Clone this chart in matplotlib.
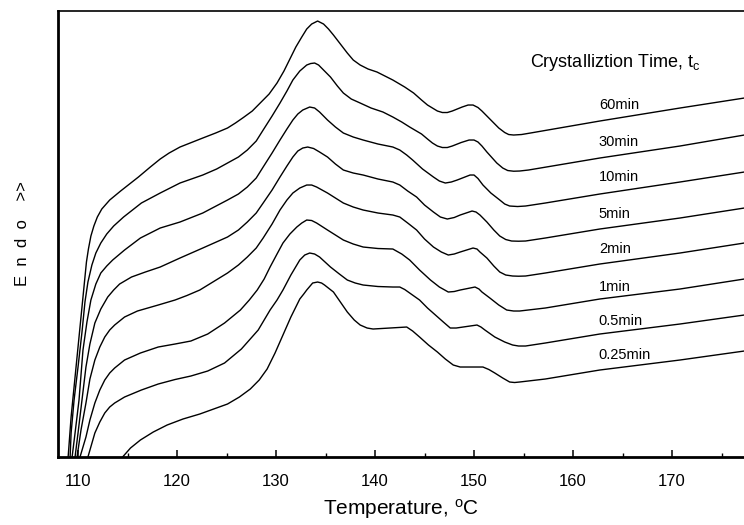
import matplotlib.pyplot as plt
import numpy as np

plt.rcParams['font.family'] = ['Liberation Sans', 'DejaVu Sans']
plt.rcParams['mathtext.default'] = 'regular'

# DSC heating traces after isothermal crystallization (heat flow in a.u.)
t_60 = [109.0, 109.3, 109.8, 110.3, 110.6, 110.85, 111.05, 111.3, 111.6, 111.95, 112.4, 113.2, 114.3, 115.2,
        116.1, 117.3, 118.3, 119.2, 120.3, 122.6, 123.9, 125.1, 125.9, 126.7, 127.6, 128.4, 129.3, 130.1,
        130.8, 131.4, 132.0, 132.6, 133.1, 133.6, 134.2, 134.8, 135.3, 135.8, 136.5, 137.2, 137.8, 138.5,
        139.3, 140.2, 141.0, 141.8, 143.0, 143.9, 144.7, 145.3, 145.8, 146.3, 146.8, 147.3, 147.8, 148.8,
        149.4, 149.9, 150.4, 150.8, 151.6, 152.5, 153.1, 153.5, 154.0, 154.8, 155.7, 162.7, 170.8, 177.3]
h_60 = [0, 40, 90, 140, 170, 195, 208, 221, 231, 240, 248, 257, 266, 273,
        280, 290, 298, 304, 310, 319, 324, 329, 334, 339.5, 346, 354, 363, 374,
        386, 398, 410, 420, 428, 433, 436, 433, 428, 422, 413, 404, 397, 392,
        388, 385, 381, 377, 370, 364, 357, 352, 349, 346, 344.5, 344.5, 346, 350,
        352, 352, 349.5, 346, 338, 329, 324.5, 322.5, 322, 322.5, 324, 336, 349, 359]

t_30 = [109.2, 109.3, 109.6, 110.0, 110.4, 110.7, 111.0, 111.4, 111.8, 112.3, 112.9, 113.6, 114.6, 115.5,
        116.4, 118.3, 120.3, 122.6, 124.0, 125.1, 126.2, 127.1, 128.0, 128.7, 129.6, 130.4, 131.1, 131.7,
        132.4, 133.1, 133.5, 133.9, 134.3, 134.6, 135.5, 136.2, 136.8, 137.6, 138.5, 139.6, 140.8, 141.8,
        142.7, 143.5, 144.7, 145.3, 145.8, 146.3, 146.8, 147.3, 147.8, 148.7, 149.5, 150.0, 150.4, 150.8,
        151.3, 152.3, 152.9, 153.4, 154.0, 154.6, 155.5, 156.7, 162.7, 170.8, 177.3]
h_30 = [0, 24, 57, 90, 125, 155, 175, 192, 204, 214, 223, 231, 240, 247,
        254, 264, 274, 282, 288, 294, 300, 307, 316, 327, 341, 354, 366, 377,
        386, 392, 393.5, 394, 392, 389, 380, 371, 364, 358, 354, 349, 345, 340,
        335, 330, 323, 318, 314, 311, 309.5, 309.5, 311, 314.5, 317, 317, 315, 311,
        305, 294, 289, 286.5, 285.8, 286, 287, 289, 299, 311, 322]

t_10 = [109.4, 109.7, 110.1, 110.5, 110.9, 111.3, 111.8, 112.3, 112.9, 113.5, 114.7, 116.3, 118.3, 120.3,
        122.6, 125.1, 126.2, 127.1, 128.0, 128.7, 129.6, 130.4, 131.1, 131.7, 132.2, 132.7, 133.4, 133.9,
        134.4, 135.2, 136.0, 136.8, 137.8, 138.8, 140.3, 141.8, 142.5, 143.2, 143.8, 144.8, 145.9, 146.5,
        147.1, 147.7, 148.3, 149.6, 150.0, 150.4, 150.9, 151.7, 152.6, 153.1, 153.6, 154.4, 155.2, 157.2,
        162.7, 170.8, 177.3]
h_10 = [0, 24, 57, 107, 135, 157, 173, 184, 191, 197, 207, 219, 229, 235,
        244, 257, 263, 270, 279, 290, 304, 317, 328, 337, 343, 347, 350, 349,
        345, 337, 330, 324, 320, 317, 313, 310, 307, 302, 297, 288, 280, 276,
        274, 275, 277, 282, 282, 278.5, 272, 264, 257, 253, 251, 250.5, 251, 254,
        263, 275, 285]

t_5 = [109.7, 110.0, 110.4, 110.8, 111.2, 111.7, 112.3, 113.0, 113.6, 114.2, 115.4, 116.8, 118.3, 120.3,
       122.6, 125.1, 126.2, 127.1, 128.0, 128.7, 129.6, 130.4, 131.1, 131.7, 132.2, 132.7, 133.2, 133.8,
       134.4, 135.2, 136.0, 136.8, 137.8, 138.8, 140.3, 141.8, 142.5, 143.3, 144.2, 145.0, 145.9, 146.6,
       147.3, 148.0, 148.6, 149.8, 150.2, 150.6, 151.3, 152.0, 152.6, 153.2, 153.8, 154.5, 155.2, 157.2,
       162.7, 170.8, 177.3]
h_5 = [0, 24, 57, 90, 113, 134, 148, 160, 167, 173, 180, 185, 190, 199,
       209, 220, 227, 235, 244, 254, 267, 280, 291, 300, 306, 309, 310, 308.5,
       305, 300, 293, 287, 284, 282, 278, 275, 272, 266, 260, 252, 245, 240,
       238, 239.5, 242, 246, 245, 242, 235, 227, 221, 217.5, 216, 215.8, 216, 219,
       228, 239, 249]

t_2 = [109.9, 110.3, 110.8, 111.2, 111.7, 112.2, 112.7, 113.2, 113.7, 114.7, 116.0, 118.1, 119.8, 121.0,
       122.3, 125.1, 126.2, 127.1, 128.0, 128.7, 129.6, 130.4, 131.1, 131.7, 132.4, 133.1, 133.6, 134.1,
       135.2, 136.0, 136.8, 137.8, 138.8, 140.3, 141.8, 142.5, 143.3, 144.2, 145.0, 145.9, 146.7, 147.4,
       148.0, 148.6, 149.9, 150.3, 150.6, 151.3, 152.0, 152.6, 153.2, 153.9, 154.5, 155.2, 157.2, 162.7,
       170.8, 177.3]
h_2 = [0, 27, 54, 78, 97, 110, 120, 127, 132, 140, 146, 152, 157, 161.5,
       167, 184, 192, 200, 209, 219, 233, 247, 257, 264, 269, 272, 272, 270,
       264, 259, 254, 250, 247, 244, 242, 240, 234, 227, 218, 210, 205, 202,
       203, 205, 209, 208, 205, 199, 191, 185, 182, 181, 180.8, 181, 184, 193,
       204, 214]

t_1 = [110.2, 110.8, 111.2, 111.7, 112.2, 112.7, 113.2, 113.7, 114.7, 116.3, 118.1, 119.8, 121.4, 123.1,
       124.8, 126.4, 127.3, 128.1, 128.8, 129.4, 130.1, 130.7, 131.4, 132.1, 132.6, 133.1, 133.6, 134.1,
       135.2, 136.0, 136.8, 137.8, 138.8, 140.3, 141.8, 142.7, 143.5, 144.5, 145.6, 146.5, 147.4, 148.0,
       148.6, 150.1, 150.5, 150.8, 151.6, 152.5, 153.3, 154.0, 154.6, 157.2, 162.7, 170.8, 177.3]
h_1 = [0, 20, 37, 54, 67, 77, 84, 89, 97, 104, 110, 113, 116, 123,
       134, 147, 157, 167, 178, 190, 203, 214, 223, 230, 234, 237, 236.5, 234,
       227, 222, 217, 213, 210, 208.5, 208, 203, 197, 187, 177, 170, 165, 165.5,
       167, 170, 168, 165, 159, 152, 147, 146, 146, 149, 158, 168, 178]

t_05 = [111.0, 111.7, 112.2, 112.7, 113.2, 113.7, 114.7, 116.4, 118.1, 119.8, 121.4, 123.1, 124.8, 126.5,
        128.2, 128.8, 129.4, 130.1, 130.7, 131.5, 132.4, 132.9, 133.4, 133.9, 134.4, 135.5, 136.4, 137.2,
        138.0, 138.8, 140.3, 141.8, 142.5, 143.0, 143.5, 144.5, 145.3, 146.1, 146.9, 147.6, 148.2, 148.9,
        150.3, 150.7, 151.1, 152.1, 153.1, 153.9, 154.5, 155.2, 157.2, 162.7, 170.8, 177.3]
h_05 = [0, 24, 35, 44, 50, 54, 60, 67, 73, 77.5, 81, 86, 94, 108,
        127, 137, 147, 157, 167, 182, 197, 202, 204, 203, 200, 190, 183, 177,
        174, 172, 170.5, 170, 170, 167.5, 164, 157, 149, 142, 135, 129, 129, 130,
        132, 130, 127, 120, 115, 112, 111, 111, 114, 123, 133, 142]

t_025 = [114.5, 115.3, 116.3, 117.6, 119.0, 120.6, 122.3, 123.7, 125.1, 126.3, 127.4, 128.3, 129.1, 129.9,
         130.7, 131.5, 132.4, 132.8, 133.1, 133.7, 134.2, 134.6, 134.9, 135.8, 136.5, 137.2, 137.9, 138.5,
         139.2, 139.8, 141.5, 143.2, 143.8, 144.5, 145.4, 146.3, 147.1, 147.9, 148.6, 149.4, 150.9, 151.5,
         152.1, 152.9, 153.6, 154.1, 154.6, 157.2, 162.7, 170.8, 177.3]
h_025 = [0, 9, 17, 25, 32, 38, 43, 48, 53, 60, 68, 77, 88, 104,
         122, 140, 158, 163, 167, 174, 175, 174, 172, 165, 155, 145, 137, 132,
         129, 128, 129, 130, 126, 120, 112, 105, 98, 92, 90, 90, 90, 87.5,
         84, 79, 75, 74.5, 75, 78, 87, 97, 106]

labels = ['60min', '30min', '10min', '5min', '2min', '1min', '0.5min', '0.25min']
temps = [t_60, t_30, t_10, t_5, t_2, t_1, t_05, t_025]
heats = [h_60, h_30, h_10, h_5, h_2, h_1, h_05, h_025]
label_y = [352, 315, 280, 243, 208, 170, 136, 102]

fig = plt.figure(figsize=(7.44, 5.25), dpi=100)
ax = fig.add_axes([0.078, 0.1295, 0.922, 0.8495])

for t, h in zip(temps, heats):
    ax.plot(t, h, color='black', lw=1.0, solid_joinstyle='round')

for lab, y in zip(labels, label_y):
    ax.text(162.6, y, lab, fontsize=10.5, ha='left', va='center')
ax.text(155.7, 395, 'Crystalliztion Time, t$_c$', fontsize=13, ha='left', va='center')

ax.set_xlim(107.98, 177.27)
ax.set_ylim(0, 446)
ax.set_xticks(np.arange(110, 171, 10))
ax.set_xticks(np.arange(115, 176, 10), minor=True)
ax.set_yticks([])
ax.tick_params(axis='x', which='major', direction='in', length=5, width=1.1, labelsize=12, pad=12)
ax.tick_params(axis='x', which='minor', direction='in', length=3, width=1.0)

ax.spines['right'].set_visible(False)
ax.spines['left'].set_linewidth(2)
ax.spines['bottom'].set_linewidth(2)
ax.spines['top'].set_linewidth(1.2)

ax.set_xlabel('Temperature, $^{o}$C', fontsize=15, labelpad=6)
ax.set_ylabel('E  n  d  o    >>', fontsize=12, labelpad=20)

fig.savefig('out.png', dpi=100)
